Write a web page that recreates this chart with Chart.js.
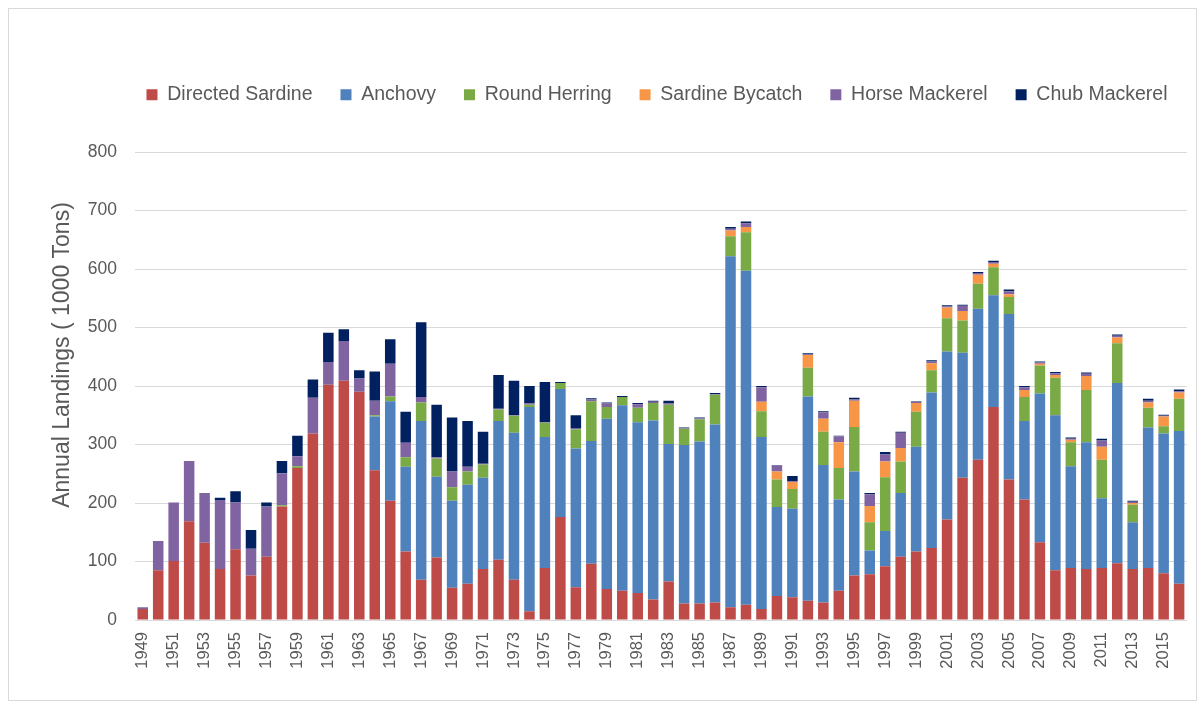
<!DOCTYPE html>
<html>
<head>
<meta charset="utf-8">
<script src="https://cdn.jsdelivr.net/npm/chart.js@4/dist/chart.umd.min.js"></script>
<style>
  body { margin: 0; background: #fff; }
  #wrap { width: 1203px; height: 705px; position: relative; }
</style>
</head>
<body>
<div id="wrap"><canvas id="chart-landings" width="1203" height="705"></canvas></div>
<script>
var years = ['1949','1950','1951','1952','1953','1954','1955','1956','1957','1958',
  '1959','1960','1961','1962','1963','1964','1965','1966','1967','1968',
  '1969','1970','1971','1972','1973','1974','1975','1976','1977','1978',
  '1979','1980','1981','1982','1983','1984','1985','1986','1987','1988',
  '1989','1990','1991','1992','1993','1994','1995','1996','1997','1998',
  '1999','2000','2001','2002','2003','2004','2005','2006','2007','2008',
  '2009','2010','2011','2012','2013','2014','2015','2016'];

// landings in 1000 tons
var directedSardine = [19,85,101,169,132,87,121,76,108,194,
  260,319,402,409,390,256,204,117,69,107,
  55,62,87,103,69,15,89,176,56,96,
  53,50,46,35,66,28,28,30,22,26,
  19,41,39,33,30,50,76,78,92,108,
  117,123,172,243,274,364,240,206,133,85,
  89,87,89,97,87,89,80,62];

var anchovy = [0,0,0,0,0,0,0,0,0,0,
  0,0,0,0,0,92,170,145,271,138,
  149,169,156,237,251,349,224,219,237,210,
  291,317,292,306,235,271,277,304,600,571,
  294,152,151,349,235,156,178,41,60,109,
  179,266,287,214,258,191,283,134,254,265,
  174,217,119,308,80,240,239,261];

var roundHerring = [0,0,0,0,0,0,0,0,0,2,
  3,0,0,0,0,2,8,16,32,31,
  23,23,23,20,29,4,24,10,33,68,
  20,14,25,30,67,28,38,51,34,66,
  44,47,34,49,57,54,76,48,92,54,
  60,38,57,55,43,48,29,41,48,64,
  41,89,66,68,30,34,12,55];

var sardineBycatch = [0,0,0,0,0,0,0,0,0,0,
  0,0,0,0,0,0,0,0,0,0,
  0,0,0,0,0,0,0,0,0,0,
  0,0,0,0,0,0,0,0,10,9,
  16,14,12,22,22,44,45,28,27,23,
  15,12,18,16,15,6,5,12,3,5,
  4,24,22,10,3,9,17,11];

var horseMackerel = [3,50,100,103,85,118,80,46,86,55,
  17,61,39,68,23,25,56,25,9,2,
  27,8,1,1,1,2,1,0,2,3,
  6,0,6,2,2,1,2,1,3,6,
  25,10,1,1,11,10,2,20,12,26,
  2,3,2,9,3,3,5,5,2,3,
  2,4,11,3,2,3,1,2];

var chubMackerel = [0,0,0,0,0,4,19,32,7,21,
  35,31,50,20,14,50,42,53,128,90,
  92,78,55,58,59,30,69,2,22,2,
  2,2,2,2,5,1,1,2,3,3,
  2,1,9,2,2,1,3,2,4,2,
  1,2,2,2,2,2,3,2,2,2,
  2,2,3,2,2,3,2,3];

var yTicks = [0,100,200,300,400,500,600,700,800];

var textColor = '#595959';
var gridColor = '#d9d9d9';
var fontName = '"Liberation Sans", Arial, sans-serif';

function series(label, data, color) {
    return {
        label: label,
        data: data,
        backgroundColor: color,
        borderColor: color,
        borderWidth: 0,
        barPercentage: 0.68,
        categoryPercentage: 1.0,
    };
}

// frame round the whole chart, legend placement, rotated y title
var extras = {
    id: 'extras',
    beforeInit: function(chart) {
        // fixed legend block height so the plot starts where the picture does
        var fit = chart.legend.fit;
        chart.legend.fit = function() {
            fit.bind(chart.legend)();
            this.height = 95;
        };
    },
    afterLayout: function(chart) {
        // centre the legend over the plot area (centre x = 657), keep it on one row
        chart.legend.left = 111;
        chart.legend.right = 1203;
    },
    beforeDraw: function(chart) {
        var ctx = chart.ctx;
        ctx.save();
        ctx.fillStyle = '#fff';
        ctx.fillRect(0, 0, chart.width, chart.height);
        ctx.strokeStyle = gridColor;
        ctx.lineWidth = 1;
        ctx.strokeRect(8.5, 8.5, 1188, 692);
        ctx.restore();
    },
    afterDraw: function(chart) {
        var ctx = chart.ctx;
        ctx.save();
        ctx.translate(63, 355);
        ctx.rotate(-Math.PI / 2);
        ctx.fillStyle = textColor;
        ctx.font = '23px ' + fontName;
        ctx.textAlign = 'center';
        ctx.textBaseline = 'middle';
        ctx.fillText('Annual Landings ( 1000 Tons)', 0, 0);
        ctx.restore();
    }
};

var ctx = document.getElementById('chart-landings').getContext('2d');
var myChart = new Chart(ctx, {
    type: 'bar',
    data: {
        labels: years,
        datasets: [
            series('Directed Sardine', directedSardine, '#be4b48'),
            series('Anchovy', anchovy, '#4f81bd'),
            series('Round Herring', roundHerring, '#79aa45'),
            series('Sardine Bycatch', sardineBycatch, '#f79646'),
            series('Horse Mackerel', horseMackerel, '#8064a2'),
            series('Chub Mackerel', chubMackerel, '#002060'),
        ],
    },
    options: {
        responsive: false,
        animation: false,
        layout: {
            padding: { top: 57, left: 0, right: 13, bottom: 0 }
        },
        plugins: {
            tooltip: { enabled: false },
            legend: {
                position: 'top',
                labels: {
                    color: textColor,
                    font: { family: fontName, size: 19.5 },
                    boxWidth: 11,
                    boxHeight: 11,
                    padding: 28,
                },
            },
        },
        scales: {
            x: {
                stacked: true,
                grid: { display: false },
                border: { color: gridColor, width: 1 },
                ticks: {
                    autoSkip: false,
                    maxRotation: 90,
                    minRotation: 90,
                    padding: 4,
                    color: textColor,
                    font: { family: fontName, size: 16.5 },
                    callback: function(value, index) {
                        return index % 2 == 0 ? years[index] : '';
                    },
                },
                afterFit: function(scale) { scale.height = 85; },
            },
            y: {
                stacked: true,
                min: 0,
                max: 800,
                afterBuildTicks: function(scale) {
                    scale.ticks = yTicks.map(function(v) { return { value: v }; });
                },
                grid: { color: gridColor, drawTicks: false },
                border: { display: false },
                ticks: {
                    padding: 18,
                    color: textColor,
                    font: { family: fontName, size: 17.5 },
                },
                afterFit: function(scale) { scale.width = 135; },
            },
        },
    },
    plugins: [extras],
});
</script>
</body>
</html>
